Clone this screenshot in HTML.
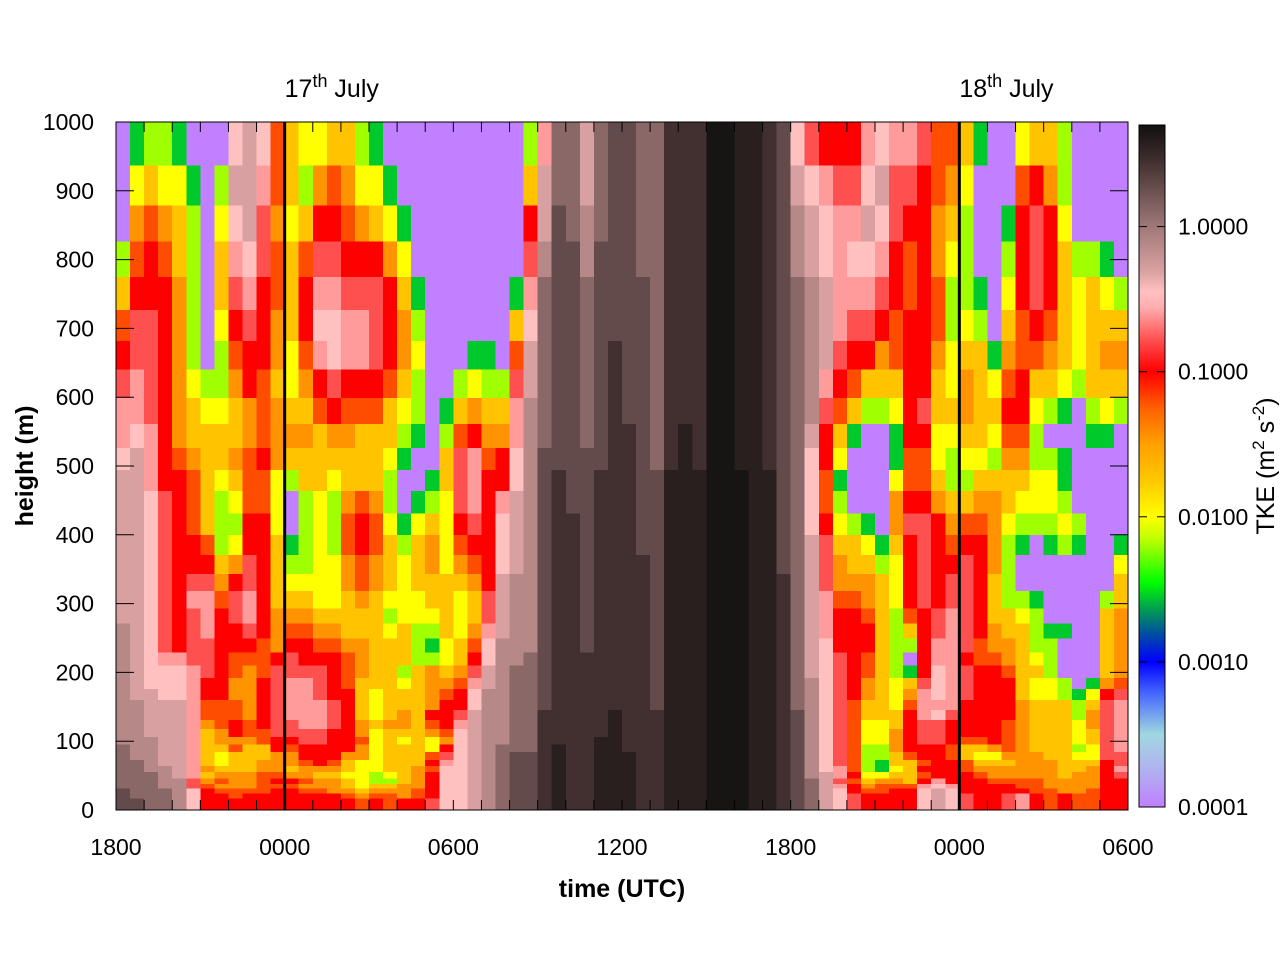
<!DOCTYPE html>
<html><head><meta charset="utf-8"><title>TKE time-height</title>
<style>
html,body{margin:0;padding:0;background:#fff;}
svg{display:block;font-family:"Liberation Sans",Arial,sans-serif;}
</style></head>
<body>
<svg id="chart" width="1280" height="960" viewBox="0 0 1280 960" xmlns="http://www.w3.org/2000/svg">
  <defs>
    <linearGradient id="cbgrad" x1="0" y1="1" x2="0" y2="0"></linearGradient>
    <clipPath id="plotclip"><rect x="116" y="122" width="1012" height="688"/></clipPath>
  </defs>
  <g id="cells" clip-path="url(#plotclip)" shape-rendering="crispEdges"></g>
  <g id="daylines"></g>
  <rect x="116" y="122" width="1012" height="688" fill="none" stroke="#000" stroke-width="1"/>
  <g id="ticks" stroke="#000" stroke-width="1"></g>
  <g id="xlabels" font-size="23" text-anchor="middle"></g>
  <g id="ylabels" font-size="23" text-anchor="end"></g>
  <g id="daylabels" font-size="25"></g>
  <text x="622" y="897" font-size="25" font-weight="bold" text-anchor="middle">time (UTC)</text>
  <text x="33" y="466" font-size="25" font-weight="bold" text-anchor="middle" transform="rotate(-90 33 466)">height (m)</text>
  <rect x="1139" y="125" width="26" height="682" fill="url(#cbgrad)" stroke="#000" stroke-width="1"/>
  <g id="cbticks" stroke="#000" stroke-width="1"></g>
  <g id="cblabels" font-size="23"></g>
  <text x="1274" y="466" font-size="25" text-anchor="middle" transform="rotate(-90 1274 466)">TKE (m<tspan font-size="17" dy="-10">2</tspan><tspan dy="10"> s</tspan><tspan font-size="17" dy="-10">-2</tspan><tspan dy="10">)</tspan></text>
</svg>
<script>
// ---- data ----
const startHour = 18;          // first column starts 1800 UTC
const stepHours = 0.5;         // column width in hours
const spanHours = 36;
const rowEdgesM = [1000,937,879,826,775,727,682,640,599,561,526,494,464,431,400,371,343,318,293,271,249,229,210,192,176,160,145,131,118,106,95,84,73,64,55,46,38,31,24,17,11,0];
const codeLog10 = {P:-4,G:-2.55,L:-2.2,Y:-2.0,A:-1.72,O:-1.45,Q:-1.2,R:-1.0,S:-0.78,K:-0.6,W:-0.45,T:-0.3,B:-0.12,C:0.1,D:0.28,E:0.45,F:0.58,X:0.68};
const tkeRows = [
"PGLLGPPPWTWQAYYAALGPPPP"+"PPPPPPLKCCTCDDCCEEEXXFFEDW"+"SRRRKWKKSQQAGPPYAALPPPP",
"PYAYYGPLTTKQALOQOYYGPPP"+"PPPPPPATCCTCDDCCEEEXXFFEDT"+"WKSSWTSSRQOYPPPQROLPPPP",
"POQOALPYWTSOYARRQOAYGPP"+"PPPPPPRTDCBCDDCCEEEXXFFEDB"+"TWKKTWSRROALPPGRSRYPPPP",
"LQRQALPAKWSQAQSSRRROYPP"+"PPPPPPSBDDBDDDCCEEEXXFFEDB"+"TWKWWKRQROYLPPLRSRALLGP",
"ARRROLPASKRQARKKSSSRAGP"+"PPPPPGKCDDCDDDDCEEEXXFFEDC"+"BTKKKSRQRQLLGPYRSRAYAYL",
"QSSROLPYRSROARWWKKSROLP"+"PPPPPAWCDDCDDDDCEEEXXFFEDC"+"BTKSSRQRRQLYLPAQRQAYAAA",
"RSSROLPLQRROYQKWKKSROYP"+"PPGGPQTCDDCDEDDCEEEXXFFEDC"+"BTSRROQRROYAAGOQQOAYAOO",
"SKSROYLLORQAYORSRRRQALP"+"PLYLLSTCDDCDEDDCEEEXXFFEDC"+"BKRQAAARRAYOAYQRAAYLAAA",
"KKSROAYYAOQOAAQRQQQAYLP"+"GAOAAKBCDDCDEDDCEEEXXFFEDC"+"BSQALLYRSAAOAARRYLGPLYL",
"KWKROAAAAOQOOOAOOAAALGP"+"LQROOKBCDDCDEEDCEFEXXFFEDC"+"TRAGPPGRRYYAAYQQLPPPGGP",
"WTKRQOAAOQROAAAAAAAYGPP"+"ASKQRWBDDDDDEEDCEFEXXFFEDC"+"WRYPPPGQQYLYYLOOLLGPPPP",
"TTKRRQAYAQQYLAAYAAALPPG"+"ASKRRWBDEDDEEEDDFFFXXXFFDC"+"WQGPPPYQQALLAAAAYYGPPPP",
"TTWSRQALYQQYPLYLOQOLPGL"+"YSKRKTBDEDDEEEDDFFFXXXFFDC"+"WQLPPPORROAAOOAYYYLPPPP",
"TTWSRQALLRRYPLYLQRQYGYA"+"YRSRWTBDEEDEEEDDFFFXXXFFDC"+"WRYLGPOSSROQQOYLLLYLPPP",
"TTWSRRQLYRRAGLYLQRQALAO"+"YQRRWTBDEEDEEEDDFFFXXXFFDC"+"TSAAYGARSRQRROLGPGLGPPG",
"TTWSRRRAOSRALLYYOQOAYAO"+"YOQRWTBDEEDEEEEDFFFXXXFFDC"+"TSOAALYRSRRSROLPPPPPPPY",
"TTWSRSSORSRAYYYYOQOAYAA"+"AAORTBBDEEDEEEEDFFFXXXFFEC"+"TSOOOAYRSRSSRALPPPPPPPA",
"TTWSRKKQSKRAAAYYAOAYYYA"+"AYASTBBDEEDEEEEDFFFXXXFFEC"+"TKQQOAYRSRSSRALLGPPPPLA",
"TTWSRSKRSKROOOAAAAALYYY"+"AYASTBBDEEDEEEEDFFFXXXFFEC"+"TKRRQALQRSKSRAAYLPPPPAO",
"BTWSRSKRRSROQQOOAAAYALL"+"AYOKTBBDEEDEEEEDFFFXXXFFEC"+"TKRRRALARSKSROAALGGPPAO",
"BTWSRSSRRRQORRQQOOAAALG"+"YAQWBBBDEEDEEEEDFFFXXXFFEC"+"TWRRRALLRKKSQOOALLPPPAO",
"BTWKKSSRQQQRSRRRQOAAALL"+"YARWBBCDEEEEEEEDFFFXXXFFEC"+"TWSRQALPRKKRQQOAYLPPPAO",
"BTWWWKSRQOQSSSSRQOAALAO"+"AOSTBCCDEEEEEEEDFFFXXXFFEC"+"TWSRQALGRWKSRRQAALPPPAO",
"BTWWWKRROORSKKSRQAAAYAO"+"OQKTBCCDEEEEEEEDFFFXXXFFEC"+"BWSROAYASWKSRRRAYYLPGOQ",
"BTTWWKRROORSKKSRRAYAAAO"+"QRWBBCCDEEEEEEEDFFFXXXFFEC"+"BWSROAYOKWKSRRRAYYLGYRS",
"BBTTTKQQQORSKKKSRAYAAAO"+"RRWBBCCDEEEEEEEDFFFXXXFFEC"+"BWSQAAYQKKKRRRROAAALASK",
"BBTTTKQQQORSKKKSRAYAOAR"+"RSTBBCCEEEEEFEEEFFFXXXFFED"+"BWSQAAARKWSRRRROAAALOSK",
"BBTTTKOQRQRSSKKSROAOOAQ"+"RKTBBCCEEEEEFEEEFFFXXXFFED"+"BWSQYYARSSRRRRQOAAAYOSK",
"BBTTTKAORQQSSSSRROYAAAO"+"QWTBBCCEEEEEFEEEFFFXXXFFED"+"BWSQYYORSSRRRRQOAAAYASK",
"BBBTTKAOOOQRRSSRRQYAYAY"+"OWTBBCCEEEEFFEEEFFFXXXFFED"+"BWSQYYORSSRQQRQOAAAYASK",
"CBBTTKAAQAARQRRRROYAAAY"+"RWTBCCCEFEEFFEEEFFFXXXFFED"+"BWSQLLORRRQAAOQOAAALYSK",
"CBBTTKAYAAAOORRROOYAAAQ"+"SWTBCDDEFEEFFFEEFFFXXXFFED"+"BWSQLLAQRRQAYYOOOAAYYSS",
"CCBTTKAYAAOOOQRQAYYAAAR"+"KWTBCDDEFEEFFFEEFFFXXXFFED"+"BWSQLGAAQRRQAAAOOOAAARS",
"CCBBTKOAAAOOAOOOAYYAAOQ"+"WWTBCDDEFEEFFFEEFFFXXXFFED"+"BWKQLGYARRRQOOOOOOAAORK",
"CCCBTKAOOOQQOOAAYYLYAOR"+"WWTBCDDEFEEFFFEEFFFXXXFFED"+"BTKRYYAAQRRRQOOOOOAOORS",
"CCCBBSOQOOQRRQOOAYLLAOR"+"WWTBCDDEFEEFFFEEFFFXXXFFED"+"CTSQAOOARKRRRQQQQOOOORR",
"CCCBBSQOOOQQQOOOAYAAOOR"+"WWTBCDDEFEEFFFEEFFFXXXFFED"+"CTKROQQQKWKRRRRQQOOOORR",
"DCCCBWRQQQQRRQQOOAOOOQR"+"WWTBCDDEFEEFFFEEFFFXXXFFED"+"CTWRQQRRWTWRRRRRQQOOQRR",
"DCCCBWRRQRRRRRRRQOQQOQR"+"WWTBCDDEFEEFFFEEFFFXXXFFED"+"CTWSRRRRWTWSRRSKRQRQQRR",
"DDCCBWRRRRRRRRRRRQRQRRS"+"WWTBCDDEFEEFFFEEFFFXXXFFED"+"CTWSRRRRWTWSRRSKRQRQQRR",
"DDCCBWRRRRRRRRRRRQRQRRS"+"WWTBCDDEFEEFFFEEFFFXXXFFED"+"CTWSRRRRWTWSRRSKRQRQQRR"
];
const xTickLabels = ["1800","0000","0600","1200","1800","0000","0600"];
const xTickHours = [0,6,12,18,24,30,36];
const yTickValues = [0,100,200,300,400,500,600,700,800,900,1000];
const cbTickValues = [0.0001,0.001,0.01,0.1,1.0];
const cbTickLabels = ["0.0001","0.0010","0.0100","0.1000","1.0000"];
const dayMarkerHours = [6,30];
const dayMarkerNames = ["17","18"];

// ---- scales ----
const X0=116, X1=1128, Y0=810, Y1=122;
function xScale(h){ return X0 + h/spanHours*(X1-X0); }
function yScale(m){ return Y0 - m/1000*(Y0-Y1); }
const CB_BOT=807, CB_TOP=125, LOG_MIN=-4, LOG_MAX=0.7;
function cbY(lg){ return CB_BOT - (lg-LOG_MIN)/(LOG_MAX-LOG_MIN)*(CB_BOT-CB_TOP); }
const stops = [
 [-4,"#c080ff"],[-3.75,"#b0b0f0"],[-3.5,"#a0d8e0"],[-3.2,"#4060ff"],[-3,"#0000ff"],
 [-2.8,"#0050a0"],[-2.6,"#00b040"],[-2.45,"#00ff00"],[-2.15,"#c0ff00"],[-2,"#ffff00"],
 [-1.75,"#ffc800"],[-1.5,"#ffa000"],[-1.25,"#ff6000"],[-1,"#ff0000"],[-0.8,"#ff4848"],
 [-0.55,"#ffb0b0"],[-0.45,"#ffc0c0"],[-0.3,"#d8a0a0"],[0,"#a07878"],[0.3,"#604848"],
 [0.5,"#382828"],[0.72,"#101010"]
];
function hex2rgb(h){ return [parseInt(h.substr(1,2),16),parseInt(h.substr(3,2),16),parseInt(h.substr(5,2),16)]; }
function color(lg){
  if(lg<=stops[0][0]) return stops[0][1];
  for(let i=1;i<stops.length;i++){
    if(lg<=stops[i][0]){
      const t=(lg-stops[i-1][0])/(stops[i][0]-stops[i-1][0]);
      const a=hex2rgb(stops[i-1][1]), b=hex2rgb(stops[i][1]);
      return "rgb("+a.map((v,k)=>Math.round(v+(b[k]-v)*t)).join(",")+")";
    }
  }
  return stops[stops.length-1][1];
}
const NS="http://www.w3.org/2000/svg";
function mk(tag, attrs, parent){ const e=document.createElementNS(NS,tag); for(const k in attrs) e.setAttribute(k,attrs[k]); parent.appendChild(e); return e; }

// ---- heatmap ----
const cells=document.getElementById("cells");
tkeRows.forEach((row,r)=>{
  const yTop=yScale(rowEdgesM[r]), yBot=yScale(rowEdgesM[r+1]);
  for(let c=0;c<row.length;c++){
    const lg=codeLog10[row[c]];
    const xa=xScale(c*stepHours), xb=xScale((c+1)*stepHours);
    const el=mk("rect",{x:xa.toFixed(2),y:yTop.toFixed(2),width:(xb-xa+0.6).toFixed(2),height:(yBot-yTop+0.6).toFixed(2),fill:color(lg)},cells);
    
    
  }
});

// ---- day lines and labels ----
const dl=document.getElementById("daylines"), dlab=document.getElementById("daylabels");
dayMarkerHours.forEach((h,i)=>{
  const x=xScale(h);
  const ln=mk("line",{x1:x,y1:Y1,x2:x,y2:Y0,stroke:"#000","stroke-width":3},dl);
  
  
  const t=mk("text",{x:x,y:97},dlab);
  
  
  t.innerHTML=dayMarkerNames[i]+'<tspan font-size="18" dy="-10">th</tspan><tspan dy="10"> July</tspan>';
});

// ---- ticks ----
const tk=document.getElementById("ticks");
for(let h=1;h<spanHours;h++){
  const x=xScale(h);
  mk("line",{x1:x,y1:Y1,x2:x,y2:Y1+10},tk);
  mk("line",{x1:x,y1:Y0,x2:x,y2:Y0-10},tk);
}
const xl=document.getElementById("xlabels");
xTickLabels.forEach((lab,i)=>{
  const t=mk("text",{x:xScale(xTickHours[i]),y:855},xl);
  
  
  t.textContent=lab;
});
const yl=document.getElementById("ylabels");
yTickValues.forEach(v=>{
  const y=yScale(v);
  if(v>0&&v<1000){
    mk("line",{x1:X0,y1:y,x2:X0+18,y2:y},tk);
    mk("line",{x1:X1,y1:y,x2:X1-18,y2:y},tk);
  }
  const t=mk("text",{x:94,y:y+8},yl);
  
  
  t.textContent=String(v);
});

// ---- colorbar ----
const grad=document.getElementById("cbgrad");
stops.forEach(s=>{ mk("stop",{offset:((s[0]-LOG_MIN)/(LOG_MAX-LOG_MIN)).toFixed(4),"stop-color":s[1]},grad); });
const cbt=document.getElementById("cbticks"), cbl=document.getElementById("cblabels");
cbTickValues.forEach((v,i)=>{
  const y=cbY(Math.log10(v));
  mk("line",{x1:1139,y1:y,x2:1147,y2:y},cbt);
  mk("line",{x1:1165,y1:y,x2:1157,y2:y},cbt);
  const t=mk("text",{x:1178,y:y+8},cbl);
  
  
  t.textContent=cbTickLabels[i];
});
</script>
</body></html>
